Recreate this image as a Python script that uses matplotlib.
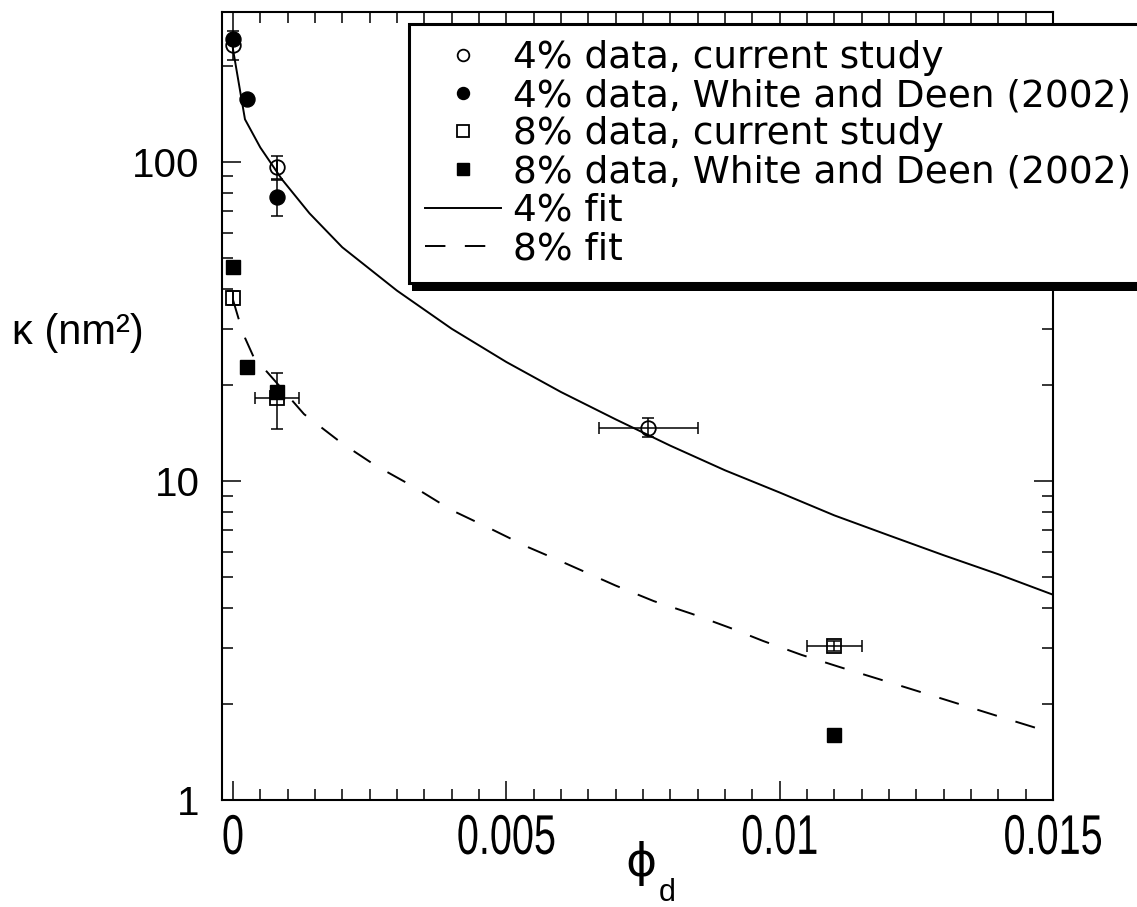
import matplotlib
matplotlib.use("Agg")
import matplotlib.pyplot as plt
from matplotlib.ticker import MultipleLocator, LogLocator, FixedLocator, FixedFormatter, NullFormatter
from matplotlib.patches import Rectangle
from matplotlib.patheffects import AbstractPathEffect
from matplotlib.transforms import Affine2D

plt.rcParams['font.family'] = ['Liberation Sans', 'DejaVu Sans']
plt.rcParams['mathtext.fontset'] = 'dejavusans'

# ---------------- data ----------------
# 4% gel, current study (open circles)
c4_x = [0.0, 0.0008, 0.0076]
c4_y = [233, 96.4, 14.7]
c4_yerr = [25, 8, 1.0]
c4_xerr = [0.0, 0.0, 0.0009]

# 4% gel, White and Deen (2002) (filled circles)
w4_x = [0.0, 0.00025, 0.0008]
w4_y = [243, 158, 77.6]
w4_yerr = [0, 0, 10]

# 8% gel, current study (open squares)
c8_x = [0.0, 0.0008, 0.011]
c8_y = [37.5, 18.2, 3.04]
c8_yerr = [2.0, 3.6, 0.1]
c8_xerr = [0.0, 0.0004, 0.0005]

# 8% gel, White and Deen (2002) (filled squares)
w8_x = [0.0, 0.00025, 0.0008, 0.011]
w8_y = [46.9, 22.8, 19.0, 1.60]

# fit curves
fit4_x = [0, 0.00022, 0.0005, 0.0009, 0.0014, 0.002, 0.003, 0.004, 0.005, 0.006,
          0.007, 0.008, 0.009, 0.010, 0.011, 0.012, 0.013, 0.014, 0.015]
fit4_y = [226, 136, 111, 88, 69, 54, 39.5, 30, 23.6, 19.0,
          15.6, 12.9, 10.8, 9.2, 7.8, 6.75, 5.85, 5.1, 4.4]

fit8_x = [0, 0.0001, 0.00022, 0.0004, 0.0006, 0.0008, 0.0013, 0.002, 0.0026, 0.0033,
          0.004, 0.0047, 0.0054, 0.006, 0.007, 0.0077, 0.0084, 0.0091, 0.0097, 0.0104,
          0.0111, 0.012, 0.013, 0.014, 0.015]
fit8_y = [37, 32.4, 28.1, 24.0, 22.2, 20.3, 16.2, 13.1, 11.2, 9.6,
          8.1, 7.1, 6.2, 5.6, 4.7, 4.2, 3.83, 3.46, 3.15, 2.85,
          2.61, 2.34, 2.07, 1.83, 1.62]

labels = ["4% data, current study",
          "4% data, White and Deen (2002)",
          "8% data, current study",
          "8% data, White and Deen (2002)",
          "4% fit",
          "8% fit"]

xticks = [0, 0.005, 0.01, 0.015]
xticklabels = ["0", "0.005", "0.01", "0.015"]
yticks = [1, 10, 100]
yticklabels = ["1", "10", "100"]


class Stretch(AbstractPathEffect):
    """Scale glyph outlines about their horizontal centre / top edge."""
    def __init__(self, sx, sy):
        super().__init__()
        self.sx, self.sy = sx, sy

    def draw_path(self, renderer, gc, tpath, affine, rgbFace=None):
        ext = tpath.get_extents()
        cx = (ext.x0 + ext.x1) / 2
        top = ext.y1
        t = Affine2D().translate(-cx, -top).scale(self.sx, self.sy).translate(cx, top) + affine
        renderer.draw_path(gc, tpath, t, rgbFace)


# ---------------- figure ----------------
fig = plt.figure(figsize=(11.37, 9.07), dpi=100)
ax = fig.add_axes([222/1137, 1-800/907, (1053-222)/1137, (800-12)/907])
ax.set_yscale('log')

lw = 1.4
ebkw = dict(ecolor='black', elinewidth=1.1, capsize=4, capthick=1.1, linestyle='none')

l4, = ax.plot(fit4_x, fit4_y, color='black', lw=lw, zorder=2)
l8, = ax.plot(fit8_x, fit8_y, color='black', lw=lw, linestyle=(0, (10.5, 10)), zorder=2)

ax.errorbar(c8_x, c8_y, yerr=c8_yerr, xerr=c8_xerr, **ebkw, zorder=3)
h3, = ax.plot(c8_x, c8_y, 's', ms=10, mfc='none', mec='black', mew=1.3, zorder=3)
h4, = ax.plot(w8_x, w8_y, 's', ms=10, mfc='black', mec='black', mew=1.0, zorder=4)

ax.errorbar(w4_x, w4_y, yerr=w4_yerr, **ebkw, zorder=3)
h2, = ax.plot(w4_x, w4_y, 'o', ms=10.8, mfc='black', mec='black', mew=1.0, zorder=4)
ax.errorbar(c4_x, c4_y, yerr=c4_yerr, xerr=c4_xerr, **ebkw, zorder=3)
h1, = ax.plot(c4_x, c4_y, 'o', ms=10.5, mfc='none', mec='black', mew=1.3, zorder=5)

ax.set_xlim(-0.0002, 0.015)
ax.set_ylim(1, 295)

ax.xaxis.set_major_locator(FixedLocator(xticks))
ax.xaxis.set_major_formatter(FixedFormatter(xticklabels))
ax.xaxis.set_minor_locator(MultipleLocator(0.0005))
ax.yaxis.set_major_locator(FixedLocator(yticks))
ax.yaxis.set_major_formatter(FixedFormatter(yticklabels))
ax.yaxis.set_minor_locator(LogLocator(base=10, subs=range(2, 10)))
ax.yaxis.set_minor_formatter(NullFormatter())

ax.tick_params(which='both', direction='in', top=True, right=True, color='black')
ax.tick_params(which='major', length=14, width=1.1)
ax.tick_params(which='minor', length=8, width=1.1)
ax.tick_params(axis='y', which='major', labelsize=29, pad=16)
ax.tick_params(axis='x', which='major', labelsize=31, pad=10)
for lab in ax.get_xticklabels():
    lab.set_path_effects([Stretch(0.92, 1.3)])
for sp in ax.spines.values():
    sp.set_linewidth(1.5)

fig.text(78/1137, 1-333/907, "κ (nm²)", fontsize=30, ha='center', va='center')
fig.text(641/1137, 1-864/907, "ϕ", fontsize=34, ha='center', va='center',
         family=['DejaVu Sans'])
fig.text(659/1137, 1-893/907, "d", fontsize=22, ha='left', va='center')

leg = fig.legend([h1, h2, h3, h4, l4, l8], labels,
                 loc='upper left', bbox_to_anchor=(409/1137, 1-24/907),
                 bbox_transform=fig.transFigure, borderaxespad=0,
                 prop={'family': 'DejaVu Sans', 'size': 27},
                 markerscale=0.8, handlelength=2.03, handletextpad=0.32,
                 labelspacing=0.06, borderpad=0.42, frameon=True, fancybox=False,
                 framealpha=1, edgecolor='black')
leg.get_frame().set_linewidth(2.2)
leg.set_zorder(5)

fig.canvas.draw()
bb = leg.get_window_extent()
shadow = Rectangle((bb.x0 + 3, bb.y0 - 8), bb.width, bb.height, transform=None,
                   facecolor='black', edgecolor='none', zorder=4.5)
fig.add_artist(shadow)

fig.savefig("out.png", dpi=100)
